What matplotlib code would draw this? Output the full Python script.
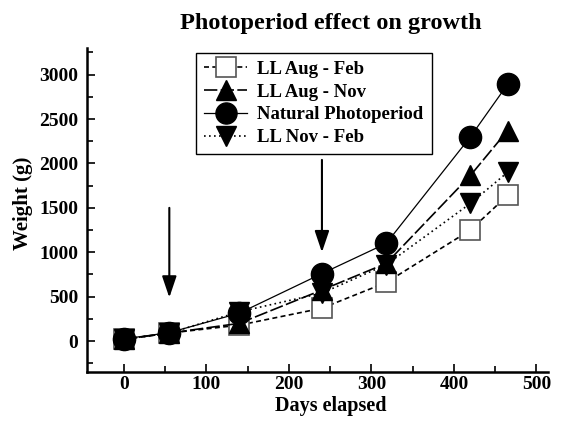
import numpy as np
import matplotlib
matplotlib.use('Agg')
import matplotlib.pyplot as plt
from matplotlib.ticker import MultipleLocator

plt.rcParams['font.family'] = ['Liberation Serif', 'DejaVu Serif']
plt.rcParams['font.weight'] = 'bold'

days = [0, 55, 140, 240, 318, 420, 465]
ll_aug_feb = [20, 90, 180, 370, 660, 1250, 1640]
ll_aug_nov = [20, 90, 200, 575, 875, 1865, 2370]
natural = [25, 95, 315, 760, 1100, 2300, 2890]
ll_nov_feb = [20, 90, 330, 540, 860, 1550, 1900]

# arrows: (x, y start, y end)
arrows = [(55, 1500, 490), (240, 2040, 1000)]

fig = plt.figure(figsize=(5.75, 4.21), dpi=100)
ax = fig.add_axes([0.151, 0.116, 0.802, 0.77])

ax.plot(days, ll_aug_feb, ls=(0, (3, 2)), color='black', lw=1.2, marker='s', ms=15,
        mfc='white', mec='#555555', mew=1.2, label='LL Aug - Feb', zorder=2)
ax.plot(days, ll_aug_nov, ls=(0, (8, 2)), color='black', lw=1.2, marker='^', ms=15,
        mfc='black', mec='black', label='LL Aug - Nov', zorder=3)
ax.plot(days, natural, ls='-', color='black', lw=0.9, marker='o', ms=16,
        mfc='black', mec='black', label='Natural Photoperiod', zorder=4)
ax.plot(days, ll_nov_feb, ls=(0, (1, 2)), color='black', lw=1.2, marker='v', ms=15,
        mfc='black', mec='black', label='LL Nov - Feb', zorder=3)

for x, y0, y1 in arrows:
    ax.annotate('', xy=(x, y1), xytext=(x, y0),
                arrowprops=dict(arrowstyle='-|>,head_length=0.65,head_width=0.22',
                                color='black', lw=1.5,
                                mutation_scale=20, shrinkA=0, shrinkB=0))

ax.set_xlim(-45, 514)
ax.set_ylim(-350, 3300)
ax.xaxis.set_major_locator(MultipleLocator(100))
ax.xaxis.set_minor_locator(MultipleLocator(50))
ax.yaxis.set_major_locator(MultipleLocator(500))
ax.yaxis.set_minor_locator(MultipleLocator(250))
ax.tick_params(which='both', direction='in', width=1.2, labelsize=14)
ax.tick_params(axis='y', pad=6)
ax.tick_params(axis='x', pad=3)
ax.tick_params(which='major', length=6)
ax.tick_params(which='minor', length=4)
for s in ['top', 'right']:
    ax.spines[s].set_visible(False)
for s in ['left', 'bottom']:
    ax.spines[s].set_linewidth(1.8)
for lab in ax.get_xticklabels() + ax.get_yticklabels():
    lab.set_fontweight('bold')

ax.set_xlabel('Days elapsed', fontsize=14.5, fontweight='bold')
ax.xaxis.set_label_coords(0.53, -0.074)
ax.set_ylabel('Weight (g)', fontsize=15, fontweight='bold')
ax.yaxis.set_label_coords(-0.117, 0.52)
fig.text(0.576, 0.943, 'Photoperiod effect on growth', fontsize=17.5,
         fontweight='bold', ha='center', va='center')

leg = ax.legend(loc='upper left', bbox_to_anchor=(0.237, 0.985),
                fancybox=False, edgecolor='black', framealpha=1, handlelength=2.3,
                borderpad=0.42, labelspacing=0.3, handletextpad=0.55, markerscale=0.95,
                borderaxespad=0, prop={'weight': 'bold', 'size': 13.5})
leg.get_frame().set_linewidth(1.0)

fig.savefig('out.png', dpi=100)
